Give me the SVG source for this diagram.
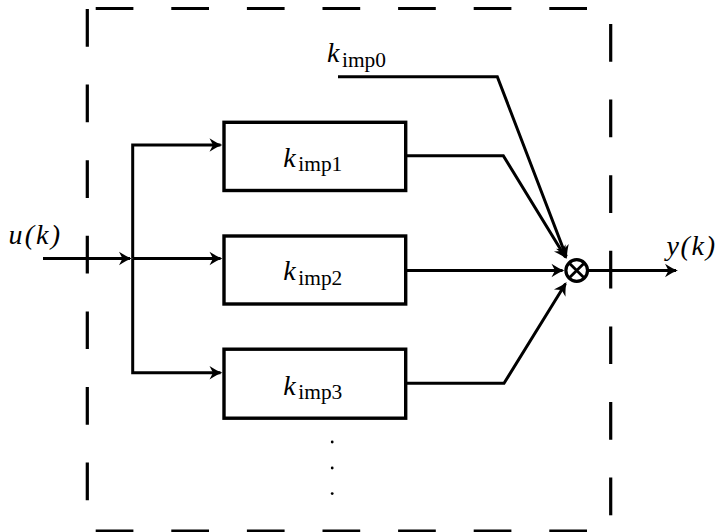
<svg xmlns="http://www.w3.org/2000/svg" width="717" height="532" viewBox="0 0 717 532">
<style>
.dash{fill:none;stroke:#000;stroke-width:3.2;stroke-dasharray:37.7 37.9}
.box{fill:#fff;stroke:#000;stroke-width:3.4}
.con{fill:none;stroke:#000;stroke-width:3;stroke-linejoin:miter}
.arr{marker-end:url(#ah)}
text{font-family:"Liberation Serif","Times New Roman","DejaVu Serif",serif}
.mi{font-style:italic;font-size:28px}
.sub{font-style:normal;font-size:20px}
</style>
<defs>
<marker id="ah" markerUnits="userSpaceOnUse" viewBox="-15 -8 16 16" markerWidth="16" markerHeight="16" refX="-2" refY="0" orient="auto" overflow="visible">
<path d="M0,0 C-3.5,-1.2 -8,-3.5 -13,-6.8 L-9.5,0 L-13,6.8 C-8,3.5 -3.5,1.2 0,0 Z" fill="#000"/>
</marker>
</defs>
<rect width="717" height="532" fill="#fff"/>
<g id="boundary">
<line class="dash" x1="95.7" y1="8.5" x2="588" y2="8.5"/>
<line class="dash" x1="95.7" y1="531" x2="588" y2="531"/>
<line class="dash" x1="87.3" y1="9" x2="87.3" y2="501"/>
<line class="dash" x1="610.7" y1="24" x2="610.7" y2="516"/>
</g>
<g id="connectors">
<path class="con arr" d="M43,258.5 H130"/>
<path class="con arr" d="M132.7,258.5 V145 H220.5"/>
<path class="con arr" d="M132.7,258.5 H220.5"/>
<path class="con arr" d="M132.7,258.5 V372.7 H220.5"/>
<path class="con arr" d="M338,76.7 H497.3 L566.3,256.6"/>
<path class="con arr" d="M405.7,155.7 H503.3 L565.5,257.3"/>
<path class="con arr" d="M405.7,270.5 H562.5"/>
<path class="con arr" d="M405.7,383.3 H504 L565.5,283.7"/>
<path class="con arr" d="M588.7,270.5 H676"/>
</g>
<g id="box1">
<rect class="box" x="224" y="122.3" width="181.7" height="68.2"/>
<text x="283.3" y="166.7" class="mi">k</text><text x="298.3" y="171" class="sub" textLength="44" lengthAdjust="spacingAndGlyphs">imp1</text>
</g>
<g id="box2">
<rect class="box" x="224" y="236" width="181.7" height="68"/>
<text x="283.3" y="280.3" class="mi">k</text><text x="298.3" y="284.6" class="sub" textLength="44" lengthAdjust="spacingAndGlyphs">imp2</text>
</g>
<g id="box3">
<rect class="box" x="224" y="349.2" width="181.7" height="69"/>
<text x="283.3" y="394.5" class="mi">k</text><text x="298.3" y="398.8" class="sub" textLength="44" lengthAdjust="spacingAndGlyphs">imp3</text>
</g>
<g id="sum">
<circle cx="576.7" cy="270.5" r="10.8" fill="#fff" stroke="#000" stroke-width="3.2"/>
<path d="M569.1,262.9 L584.3,278.1 M584.3,262.9 L569.1,278.1" stroke="#000" stroke-width="2.8"/>
</g>
<g id="labels">
<text x="327" y="62" class="mi">k</text><text x="342" y="66.5" class="sub" textLength="44" lengthAdjust="spacingAndGlyphs">imp0</text>
<text x="8.5" y="243.5" class="mi" textLength="51.5" lengthAdjust="spacing">u(k)</text>
<text x="666.5" y="254.5" class="mi" textLength="48.5" lengthAdjust="spacing">y(k)</text>
</g>
<g id="dots" fill="#000">
<circle cx="332.2" cy="442" r="1.4"/>
<circle cx="332.2" cy="468" r="1.4"/>
<circle cx="332.2" cy="493.6" r="1.4"/>
</g>
</svg>
